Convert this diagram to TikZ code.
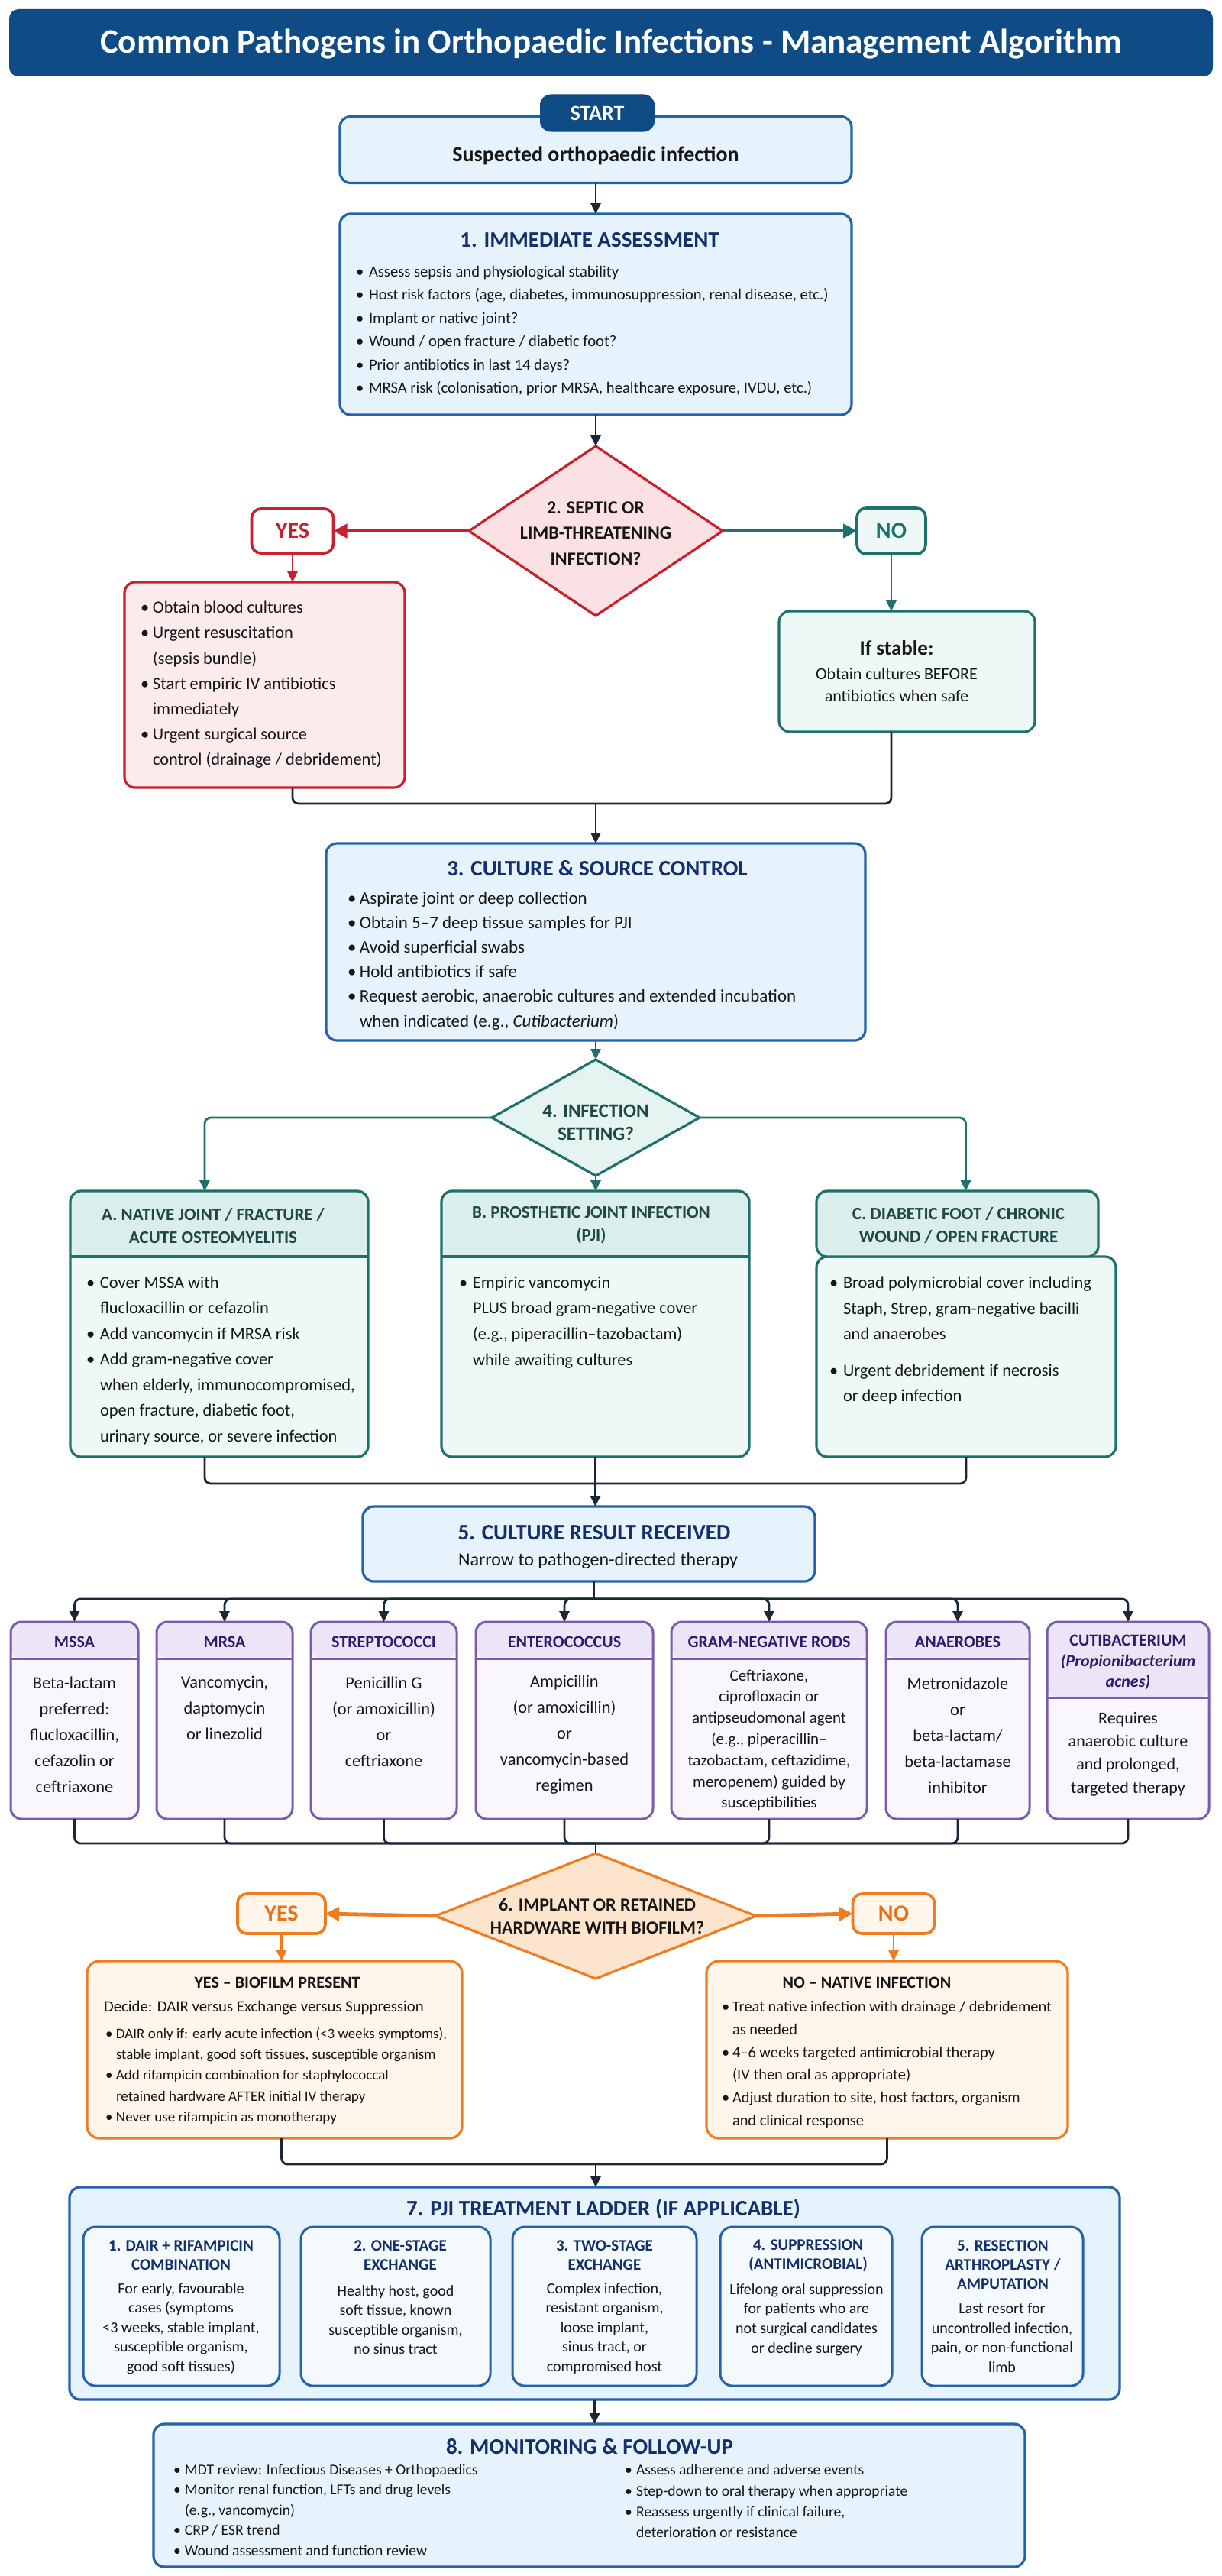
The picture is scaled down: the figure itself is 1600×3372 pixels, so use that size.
\documentclass[tikz,border=0pt]{standalone}
\usepackage{fontspec}
\setmainfont{Carlito}
\usetikzlibrary{arrows.meta,shapes.geometric,calc}
\definecolor{navybar}{HTML}{0F4C86}
\definecolor{bborder}{HTML}{2263A9}
\definecolor{bfill}{HTML}{E6F2FC}
\definecolor{navytxt}{HTML}{13306B}
\definecolor{dtxt}{HTML}{161616}
\definecolor{conc}{HTML}{1C2735}
\definecolor{redc}{HTML}{C8202F}
\definecolor{redfill}{HTML}{FCEBED}
\definecolor{pinkd}{HTML}{FBE1E4}
\definecolor{tealc}{HTML}{1F726C}
\definecolor{tealfill}{HTML}{EEF8F6}
\definecolor{tealhdr}{HTML}{DAEEEB}
\definecolor{tealtxt}{HTML}{1E4745}
\definecolor{purc}{HTML}{7A5CAE}
\definecolor{purhdr}{HTML}{ECE5F7}
\definecolor{purbody}{HTML}{F9F6FD}
\definecolor{purtxt}{HTML}{2B1D6B}
\definecolor{orc}{HTML}{EE7D22}
\definecolor{orfill}{HTML}{FFF5EB}
\definecolor{ordiam}{HTML}{FDE4CC}
\definecolor{ortxt}{HTML}{E8711A}
\newcommand{\fsz}[2]{\fontsize{#1}{#2}\selectfont}
\newcommand{\bitem}[2][9pt]{\makebox[#1][l]{\textbullet}#2}
\newcommand{\citem}[2][9pt]{\hspace*{#1}#2}
\begin{document}
\begin{tikzpicture}[x=0.5pt,y=-0.5pt,
  every node/.style={inner sep=0pt,outer sep=0pt,text=dtxt},
  bbox/.style={draw=bborder,fill=bfill,line width=1.6pt,rounded corners=7pt},
  ttl/.style={font=\bfseries\fsz{14.5pt}{17pt},text=navytxt},
  conn/.style={draw=conc,line width=1.4pt,rounded corners=4pt},
  arr/.style={conn,-{Triangle[length=7pt,width=6.5pt]}},
  tarr/.style={arr,draw=tealc},
  bigarr/.style={line width=2.4pt,-{Triangle[length=9pt,width=9pt]}},
  dia/.style={diamond,line width=1.6pt},
  ryes/.style={draw=redc,fill=white,line width=1.8pt,rounded corners=6pt,text=redc,font=\bfseries\fsz{15pt}{18pt}},
  tno/.style={draw=tealc,fill=tealfill,line width=1.8pt,rounded corners=6pt,text=tealc,font=\bfseries\fsz{15pt}{18pt}},
  oyn/.style={draw=orc,fill=orfill,line width=1.8pt,rounded corners=6pt,text=ortxt,font=\bfseries\fsz{15pt}{18pt}},
  redbox/.style={draw=redc,fill=redfill,line width=1.6pt,rounded corners=7pt},
  tbox/.style={draw=tealc,fill=tealfill,line width=1.6pt,rounded corners=7pt},
  obox/.style={draw=orc,fill=orfill,line width=1.6pt,rounded corners=8pt},
  pbox/.style={draw=purc,fill=purbody,line width=1.5pt,rounded corners=7pt,minimum height=129pt},
  sbox/.style={draw=bborder,fill=white!55!bfill,line width=1.5pt,rounded corners=8pt,minimum height=104pt},
  thdr/.style={path picture={\fill[tealhdr] (path picture bounding box.north west) rectangle ([yshift=-#1]path picture bounding box.north east);
     \draw[tealc,line width=1.6pt] ([yshift=-#1]path picture bounding box.north west) -- ([yshift=-#1]path picture bounding box.north east);}},
  phdr/.style={path picture={\fill[purhdr] (path picture bounding box.north west) rectangle ([yshift=-#1]path picture bounding box.north east);
     \draw[purc,line width=1.5pt] ([yshift=-#1]path picture bounding box.north west) -- ([yshift=-#1]path picture bounding box.north east);}},
  body/.style={align=left,font=\fsz{11.2pt}{16.6pt}},
  ph/.style={align=center,font=\bfseries\fsz{11pt}{13.5pt},text=purtxt},
  pb/.style={align=center,font=\fsz{11.2pt}{17pt}},
  th/.style={align=center,font=\bfseries\fsz{11.5pt}{15pt},text=tealtxt},
  sh/.style={align=center,font=\bfseries\fsz{10.5pt}{12.5pt},text=navytxt},
  sb/.style={align=center,font=\fsz{10pt}{12.8pt}}
]
\useasboundingbox (0,0) rectangle (1600,3372);
\fill[white] (0,0) rectangle (1600,3372);

% Title
\node[fill=navybar,rounded corners=6pt,minimum width=788pt,minimum height=44pt] (title) at (800,56) {};
\node[text=white,font=\bfseries\fsz{22.5pt}{27pt}] (titlet) at (800,57) {Common Pathogens in Orthopaedic Infections - Management Algorithm};

% Start
\node[bbox,minimum width=335pt,minimum height=43.5pt] (susp) at (780,196) {};
\node[font=\bfseries\fsz{14pt}{17pt}] (suspt) at (780,204) {Suspected orthopaedic infection};
\node[fill=navybar,rounded corners=7pt,minimum width=75pt,minimum height=24.5pt,text=white,font=\bfseries\fsz{14pt}{17pt}] (start) at (782,148) {START};

% Box 1
\node[bbox,minimum width=335pt,minimum height=131.5pt] (b1) at (780,411.5) {};
\node[ttl] (b1t) at (772,314) {1. IMMEDIATE ASSESSMENT};
\node[anchor=west,align=left,font=\fsz{10.3pt}{15.2pt}] (b1b) at (466,433) {\bitem[8.5pt]{Assess sepsis and physiological stability}\\
\bitem[8.5pt]{Host risk factors (age, diabetes, immunosuppression, renal disease, etc.)}\\
\bitem[8.5pt]{Implant or native joint?}\\
\bitem[8.5pt]{Wound / open fracture / diabetic foot?}\\
\bitem[8.5pt]{Prior antibiotics in last 14 days?}\\
\bitem[8.5pt]{MRSA risk (colonisation, prior MRSA, healthcare exposure, IVDU, etc.)}};
\draw[arr] (susp.south) -- (b1.north);

% Diamond 2
\node[dia,draw=redc,fill=pinkd,minimum width=166pt,minimum height=111pt] (d2) at (780,695) {};
\node[align=center,font=\bfseries\fsz{12pt}{16.7pt}] (d2t) at (780,698) {2. SEPTIC OR\\LIMB-THREATENING\\INFECTION?};
\draw[arr] (b1.south) -- (d2.north);
\node[ryes,minimum width=53.5pt,minimum height=29pt] (yes2) at (383,695) {YES};
\node[tno,minimum width=45pt,minimum height=30pt] (no2) at (1167,695) {NO};
\draw[bigarr,draw=redc] (d2.west) -- (yes2.east);
\draw[bigarr,draw=tealc] (d2.east) -- (no2.west);

\node[redbox,minimum width=183.5pt,minimum height=134.5pt] (rb) at (346.5,896.5) {};
\node[anchor=west,body] (rbt) at (184,896.5) {\bitem[8pt]{Obtain blood cultures}\\
\bitem[8pt]{Urgent resuscitation}\\
\citem[8pt]{(sepsis bundle)}\\
\bitem[8pt]{Start empiric IV antibiotics}\\
\citem[8pt]{immediately}\\
\bitem[8pt]{Urgent surgical source}\\
\citem[8pt]{control (drainage / debridement)}};
\node[tbox,minimum width=167.5pt,minimum height=79pt] (tb) at (1187.5,879) {};
\node[font=\bfseries\fsz{13.5pt}{16pt}] (tbh) at (1174,848) {If stable:};
\node[align=center,font=\fsz{11pt}{14.8pt}] (tbt) at (1174,896.5) {Obtain cultures BEFORE\\antibiotics when safe};
\draw[arr,draw=redc] (yes2.south) -- (yes2.south |- rb.north);
\draw[arr,draw=tealc] (no2.south) -- (no2.south |- tb.north);

\coordinate (m1) at (780,1052);
\draw[conn] (yes2.south |- rb.south) |- (m1) -| (no2.south |- tb.south);

% Box 3
\node[bbox,minimum width=353pt,minimum height=129pt] (b3) at (780,1233) {};
\draw[arr] (m1) -- (b3.north);
\node[ttl] (b3t) at (782,1137) {3. CULTURE \& SOURCE CONTROL};
\node[anchor=west,align=left,font=\fsz{11.5pt}{16.1pt}] (b3b) at (455,1257.5) {\bitem[8pt]{Aspirate joint or deep collection}\\
\bitem[8pt]{Obtain 5–7 deep tissue samples for PJI}\\
\bitem[8pt]{Avoid superficial swabs}\\
\bitem[8pt]{Hold antibiotics if safe}\\
\bitem[8pt]{Request aerobic, anaerobic cultures and extended incubation}\\
\citem[8pt]{when indicated (e.g., \textit{Cutibacterium})}};

% Diamond 4
\node[dia,draw=tealc,fill=tealhdr!70!white,minimum width=136pt,minimum height=76pt] (d4) at (780,1463) {};
\node[align=center,font=\bfseries\fsz{12.5pt}{15pt},text=tealtxt] (d4t) at (780,1469) {4. INFECTION\\SETTING?};
\draw[tarr] (b3.south) -- (d4.north);

% Boxes A B C
\node[tbox,thdr=43pt,minimum width=195pt,minimum height=174pt] (bA) at (287,1733) {};
\node[tbox,thdr=43pt,minimum width=201.5pt,minimum height=174pt] (bB) at (779.5,1733) {};
\node[tbox,minimum width=196pt,minimum height=131pt] (bCx) at (1265,1776) {};
\node[tbox,fill=tealhdr,minimum width=184.5pt,minimum height=43pt] (bC) at (1253.5,1602) {};
\draw[tarr] (d4.west) -| ([xshift=-9.5pt]bA.north);
\draw[tarr] (d4.east) -| ([xshift=5.5pt]bC.north);
\draw[tarr] (d4.south) -- (d4.south |- bB.north);
\node[th] (bAh) at (279,1604) {A. NATIVE JOINT / FRACTURE /\\ACUTE OSTEOMYELITIS};
\node[th] (bBh) at (774,1604) {B. PROSTHETIC JOINT INFECTION\\(PJI)};
\node[th] (bCh) at (1255,1604) {C. DIABETIC FOOT / CHRONIC\\WOUND / OPEN FRACTURE};
\node[anchor=west,align=left,font=\fsz{11.2pt}{16.75pt}] (bAb) at (113,1781) {\bitem{Cover MSSA with}\\
\citem{flucloxacillin or cefazolin}\\
\bitem{Add vancomycin if MRSA risk}\\
\bitem{Add gram-negative cover}\\
\citem{when elderly, immunocompromised,}\\
\citem{open fracture, diabetic foot,}\\
\citem{urinary source, or severe infection}};
\node[anchor=west,align=left,font=\fsz{11.2pt}{16.9pt}] (bBb) at (601,1731) {\bitem{Empiric vancomycin}\\
\citem{PLUS broad gram-negative cover}\\
\citem{(e.g., piperacillin–tazobactam)}\\
\citem{while awaiting cultures}};
\node[anchor=west,align=left,font=\fsz{11.2pt}{16.75pt}] (bCb) at (1086,1755) {\bitem{Broad polymicrobial cover including}\\
\citem{Staph, Strep, gram-negative bacilli}\\
\citem{and anaerobes}\\[7pt]
\bitem{Urgent debridement if necrosis}\\
\citem{or deep infection}};

% Box 5
\coordinate (m2) at (780,1942);
\node[bbox,minimum width=296pt,minimum height=49pt] (b5) at (771,2021) {};
\draw[conn] ([xshift=-9.5pt]bA.south) |- (m2) -| (bCx.south);
\draw[arr] (bB.south) -- (bB.south |- b5.north);
\node[ttl] (b5t) at (778,2006) {5. CULTURE RESULT RECEIVED};
\node[font=\fsz{12pt}{14pt}] (b5s) at (783,2043) {Narrow to pathogen-directed therapy};

% Pathogens
\node[pbox,phdr=24pt,minimum width=83.5pt] (p1) at (97.5,2252) {};
\node[pbox,phdr=24pt,minimum width=89pt] (p2) at (294,2252) {};
\node[pbox,phdr=24pt,minimum width=95.5pt] (p3) at (502.5,2252) {};
\node[pbox,phdr=24pt,minimum width=116pt] (p4) at (739,2252) {};
\node[pbox,phdr=24pt,minimum width=128pt] (p5) at (1007,2252) {};
\node[pbox,phdr=24pt,minimum width=94pt] (p6) at (1254,2252) {};
\node[pbox,phdr=49.5pt,minimum width=106pt] (p7) at (1477,2252) {};
\coordinate (br5) at (778,2093);
\draw[conn] (br5 |- b5.south) -- (br5);
\foreach \p in {p1,p2,p3,p4,p5,p6,p7} {\draw[arr] (br5) -| (\p.north);}
\node[ph] (p1h) at (97.5,2149) {MSSA};
\node[ph] (p2h) at (294,2149) {MRSA};
\node[ph] (p3h) at (502.5,2149) {STREPTOCOCCI};
\node[ph] (p4h) at (739,2149) {ENTEROCOCCUS};
\node[ph] (p5h) at (1007,2149) {GRAM-NEGATIVE RODS};
\node[ph] (p6h) at (1254,2149) {ANAEROBES};
\node[ph] (p7h) at (1477,2176) {CUTIBACTERIUM\\\textit{(Propionibacterium}\\\textit{acnes)}};
\node[pb] (p1b) at (97.5,2271) {Beta-lactam\\preferred:\\flucloxacillin,\\cefazolin or\\ceftriaxone};
\node[pb] (p2b) at (294,2236) {Vancomycin,\\daptomycin\\or linezolid};
\node[pb] (p3b) at (502.5,2254) {Penicillin G\\(or amoxicillin)\\or\\ceftriaxone};
\node[pb] (p4b) at (739,2271) {Ampicillin\\(or amoxicillin)\\or\\vancomycin-based\\regimen};
\node[align=center,font=\fsz{10.5pt}{13.9pt}] (p5b) at (1007,2278) {Ceftriaxone,\\ciprofloxacin or\\antipseudomonal agent\\(e.g., piperacillin–\\tazobactam, ceftazidime,\\meropenem) guided by\\susceptibilities};
\node[pb] (p6b) at (1254,2272) {Metronidazole\\or\\beta-lactam/\\beta-lactamase\\inhibitor};
\node[align=center,font=\fsz{11pt}{15.2pt}] (p7b) at (1477,2296) {Requires\\anaerobic culture\\and prolonged,\\targeted therapy};

% Diamond 6
\coordinate (m3) at (780,2413);
\foreach \p in {p1,p2,p3,p4,p5,p6,p7} {\draw[conn] (\p.south) |- (m3);}
\node[dia,draw=orc,fill=ordiam,minimum width=210pt,minimum height=82pt] (d6) at (780,2508) {};
\draw[conn] (m3) -- (d6.north);
\node[align=center,font=\bfseries\fsz{12pt}{15pt}] (d6t) at (782,2508) {6. IMPLANT OR RETAINED\\HARDWARE WITH BIOFILM?};
\node[oyn,minimum width=57.5pt,minimum height=26pt] (yes6) at (368.5,2505) {YES};
\node[oyn,minimum width=53.5pt,minimum height=26pt] (no6) at (1170,2505) {NO};
\draw[bigarr,draw=orc] (d6.west) -- (yes6.east);
\draw[bigarr,draw=orc] (d6.east) -- (no6.west);

\node[obox,minimum width=245.5pt,minimum height=116pt] (oy) at (359.5,2683) {};
\node[obox,minimum width=236.5pt,minimum height=116pt] (on) at (1161.5,2683) {};
\draw[arr,draw=orc] (yes6.south) -- (yes6.south |- oy.north);
\draw[arr,draw=orc] (no6.south) -- (no6.south |- on.north);
\node[font=\bfseries\fsz{11pt}{13pt}] (oyh) at (363,2595) {YES – BIOFILM PRESENT};
\node[anchor=west,font=\fsz{10.4pt}{12pt}] (oyd) at (136,2628) {Decide: DAIR versus Exchange versus Suppression};
\node[anchor=west,align=left,font=\fsz{9.5pt}{13.6pt}] (oyb) at (138,2717.5) {\bitem[7pt]{DAIR only if: early acute infection (<3 weeks symptoms),}\\
\citem[7pt]{stable implant, good soft tissues, susceptible organism}\\
\bitem[7pt]{Add rifampicin combination for staphylococcal}\\
\citem[7pt]{retained hardware AFTER initial IV therapy}\\
\bitem[7pt]{Never use rifampicin as monotherapy}};
\node[font=\bfseries\fsz{11pt}{13pt}] (onh) at (1135,2595) {NO – NATIVE INFECTION};
\node[anchor=west,align=left,font=\fsz{10.2pt}{14.9pt}] (onb) at (945,2702.5) {\bitem[7pt]{Treat native infection with drainage / debridement}\\
\citem[7pt]{as needed}\\
\bitem[7pt]{4–6 weeks targeted antimicrobial therapy}\\
\citem[7pt]{(IV then oral as appropriate)}\\
\bitem[7pt]{Adjust duration to site, host factors, organism}\\
\citem[7pt]{and clinical response}};

% Box 7
\coordinate (m4) at (780,2833);
\draw[conn] (yes6.south |- oy.south) |- (m4) -| (on.south);
\node[bbox,minimum width=687.5pt,minimum height=139pt] (b7) at (778.5,3002) {};
\draw[arr] (m4) -- (m4 |- b7.north);
\node[ttl] (b7t) at (790,2892) {7. PJI TREATMENT LADDER (IF APPLICABLE)};
\node[sbox,minimum width=128.5pt] (s1) at (237.5,3019) {};
\node[sbox,minimum width=124pt] (s2) at (518,3019) {};
\node[sbox,minimum width=120.5pt] (s3) at (791.5,3019) {};
\node[sbox,minimum width=112.5pt] (s4) at (1055.5,3019) {};
\node[sbox,minimum width=105.5pt] (s5) at (1312.5,3019) {};
\node[sh] (s1h) at (237,2952.5) {1. DAIR + RIFAMPICIN\\COMBINATION};
\node[sh] (s2h) at (524,2952.5) {2. ONE-STAGE\\EXCHANGE};
\node[sh] (s3h) at (791.5,2952.5) {3. TWO-STAGE\\EXCHANGE};
\node[sh] (s4h) at (1058,2952.5) {4. SUPPRESSION\\(ANTIMICROBIAL)};
\node[sh] (s5h) at (1313,2965) {5. RESECTION\\ARTHROPLASTY /\\AMPUTATION};
\node[sb] (s1b) at (237,3048) {For early, favourable\\cases (symptoms\\<3 weeks, stable implant,\\susceptible organism,\\good soft tissues)};
\node[sb] (s2b) at (518,3036.5) {Healthy host, good\\soft tissue, known\\susceptible organism,\\no sinus tract};
\node[sb] (s3b) at (791.5,3048) {Complex infection,\\resistant organism,\\loose implant,\\sinus tract, or\\compromised host};
\node[sb] (s4b) at (1056,3036.5) {Lifelong oral suppression\\for patients who are\\not surgical candidates\\or decline surgery};
\node[sb] (s5b) at (1312,3060) {Last resort for\\uncontrolled infection,\\pain, or non-functional\\limb};

% Box 8
\node[bbox,minimum width=570.5pt,minimum height=93.5pt] (b8) at (771.5,3266.5) {};
\draw[arr] (b7.south) -- (b7.south |- b8.north);
\node[ttl] (b8t) at (772,3203) {8. MONITORING \& FOLLOW-UP};
\node[anchor=west,align=left,font=\fsz{9.8pt}{13.2pt}] (b8l) at (227,3285.5) {\bitem[7.5pt]{MDT review: Infectious Diseases + Orthopaedics}\\
\bitem[7.5pt]{Monitor renal function, LFTs and drug levels}\\
\citem[7.5pt]{(e.g., vancomycin)}\\
\bitem[7.5pt]{CRP / ESR trend}\\
\bitem[7.5pt]{Wound assessment and function review}};
\node[anchor=west,align=left,font=\fsz{9.8pt}{13.6pt}] (b8r) at (818,3274) {\bitem[7.5pt]{Assess adherence and adverse events}\\
\bitem[7.5pt]{Step-down to oral therapy when appropriate}\\
\bitem[7.5pt]{Reassess urgently if clinical failure,}\\
\citem[7.5pt]{deterioration or resistance}};
\end{tikzpicture}
\end{document}
